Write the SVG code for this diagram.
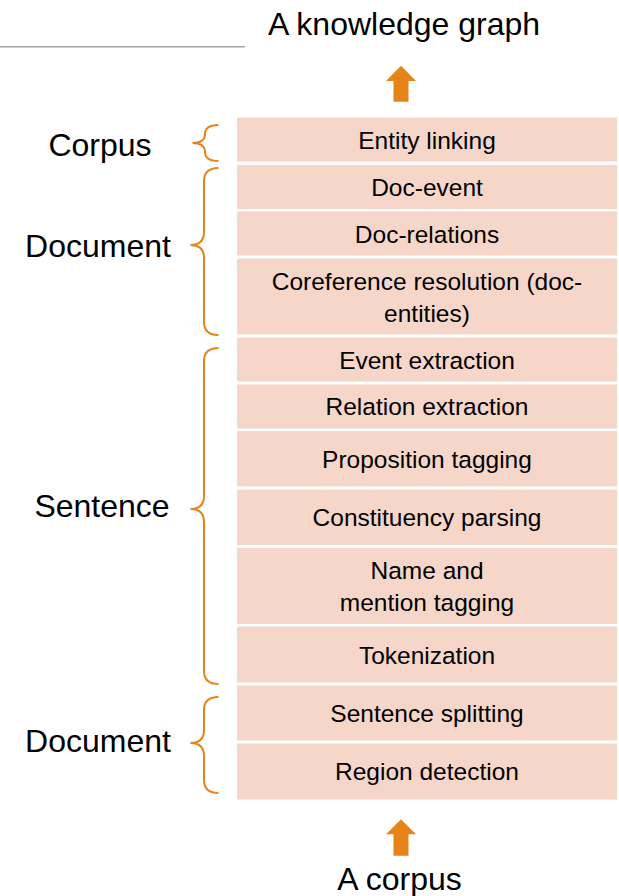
<svg xmlns="http://www.w3.org/2000/svg" width="619" height="896" viewBox="0 0 619 896">
<style>
.box{fill:#F5D6C9;stroke:none}
.t{font-family:"Liberation Sans",Arial,sans-serif;font-size:24.5px;fill:#000;text-anchor:middle}
.lbl{font-family:"Liberation Sans",Arial,sans-serif;font-size:32px;fill:#000;text-anchor:middle}
.brace{fill:none;stroke:#E6841A;stroke-width:2}
.arrow{fill:#E6841A;stroke:none}
</style>
<rect width="619" height="896" fill="#fff"/>
<line x1="0" y1="46.7" x2="245" y2="46.7" stroke="#A6A6A6" stroke-width="1.6"/>
<g id="title"><text class="lbl" x="404" y="34.5">A knowledge graph</text></g>
<g id="source"><text class="lbl" x="399.5" y="890">A corpus</text></g>

<g id="label-corpus"><text class="lbl" x="100" y="156">Corpus</text></g>
<g id="label-document1"><text class="lbl" x="98" y="256.5">Document</text></g>
<g id="label-sentence"><text class="lbl" x="102" y="516.5">Sentence</text></g>
<g id="label-document2"><text class="lbl" x="98" y="751.5">Document</text></g>

<g id="entity-linking"><rect class="box" x="237" y="117.5" width="380" height="44"/><text class="t" x="427" y="148.5">Entity linking</text></g>
<g id="doc-event"><rect class="box" x="237" y="165" width="380" height="44"/><text class="t" x="427" y="196">Doc-event</text></g>
<g id="doc-relations"><rect class="box" x="237" y="211.5" width="380" height="44"/><text class="t" x="427" y="242.5">Doc-relations</text></g>
<g id="coreference"><rect class="box" x="237" y="258.5" width="380" height="76"/><text class="t" x="427" y="290">Coreference resolution (doc-</text><text class="t" x="427" y="322">entities)</text></g>
<g id="event-extraction"><rect class="box" x="237" y="337.5" width="380" height="44"/><text class="t" x="427" y="368.5">Event extraction</text></g>
<g id="relation-extraction"><rect class="box" x="237" y="384.5" width="380" height="44"/><text class="t" x="427" y="415">Relation extraction</text></g>
<g id="proposition-tagging"><rect class="box" x="237" y="431" width="380" height="55.5"/><text class="t" x="427" y="467.5">Proposition tagging</text></g>
<g id="constituency-parsing"><rect class="box" x="237" y="489.5" width="380" height="55.5"/><text class="t" x="427" y="525.5">Constituency parsing</text></g>
<g id="name-mention-tagging"><rect class="box" x="237" y="548" width="380" height="76"/><text class="t" x="427" y="578.5">Name and</text><text class="t" x="427" y="610.5">mention tagging</text></g>
<g id="tokenization"><rect class="box" x="237" y="626.5" width="380" height="56"/><text class="t" x="427" y="663.5">Tokenization</text></g>
<g id="sentence-splitting"><rect class="box" x="237" y="685.5" width="380" height="55"/><text class="t" x="427" y="721.5">Sentence splitting</text></g>
<g id="region-detection"><rect class="box" x="237" y="743.5" width="380" height="56"/><text class="t" x="427" y="780">Region detection</text></g>

<g id="braces">
<path class="brace" d="M218.5,125 Q205,125 205,134 Q205,143 192.5,143 Q205,143 205,152 Q205,161 218.5,161"/>
<path class="brace" d="M218.5,168 Q204,168 204,181 L204,232 Q204,245 190.5,245 Q204,245 204,258 L204,322 Q204,335 218.5,335"/>
<path class="brace" d="M218.5,348 Q204,348 204,361 L204,496 Q204,509 190.5,509 Q204,509 204,522 L204,671 Q204,684 218.5,684"/>
<path class="brace" d="M218.5,697 Q204,697 204,710 L204,730 Q204,743 190.5,743 Q204,743 204,756 L204,780 Q204,793 218.5,793"/>
</g>

<g id="connectors">
<polygon class="arrow" points="401,65.7 416,81 408.5,81 408.5,101.7 393.5,101.7 393.5,81 386,81"/>
<polygon class="arrow" points="401,819.3 416,834.3 408.5,834.3 408.5,855.7 393.5,855.7 393.5,834.3 386,834.3"/>
</g>
</svg>
